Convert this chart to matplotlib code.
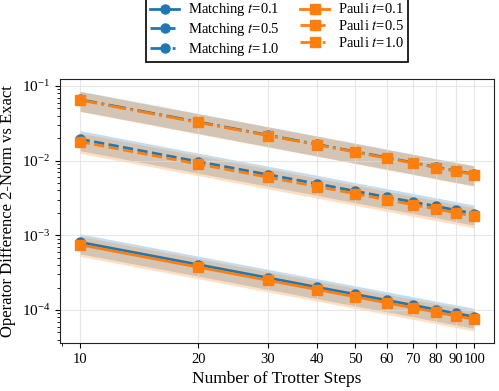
import numpy as np
import matplotlib
matplotlib.use('Agg')
import matplotlib.pyplot as plt

plt.rcParams['font.family'] = ['Liberation Serif', 'DejaVu Serif']
plt.rcParams['mathtext.fontset'] = 'stix'

# trotter steps
steps = [10, 20, 30, 40, 50, 60, 70, 80, 90, 100]

# mean operator difference
match_01 = [8.1e-4, 4.05e-4, 2.7e-4, 2.02e-4, 1.62e-4, 1.35e-4, 1.16e-4, 1.01e-4, 9.0e-5, 8.1e-5]
pauli_01 = [7.5e-4, 3.75e-4, 2.5e-4, 1.88e-4, 1.5e-4, 1.25e-4, 1.07e-4, 9.4e-5, 8.3e-5, 7.5e-5]
match_05 = [1.95e-2, 9.7e-3, 6.5e-3, 4.9e-3, 3.9e-3, 3.25e-3, 2.8e-3, 2.45e-3, 2.17e-3, 1.95e-3]
pauli_05 = [1.8e-2, 9.0e-3, 6.0e-3, 4.5e-3, 3.6e-3, 3.0e-3, 2.57e-3, 2.25e-3, 2.0e-3, 1.8e-3]
match_10 = [6.6e-2, 3.3e-2, 2.2e-2, 1.65e-2, 1.32e-2, 1.1e-2, 9.4e-3, 8.2e-3, 7.3e-3, 6.6e-3]
pauli_10 = [6.5e-2, 3.25e-2, 2.17e-2, 1.63e-2, 1.3e-2, 1.08e-2, 9.3e-3, 8.1e-3, 7.2e-3, 6.5e-3]

# relative spread of the shaded band
rel_spread = 0.3

series = [
    ('Matching $t$=0.1', match_01, '-', 'o', 'tab:blue'),
    ('Matching $t$=0.5', match_05, '--', 'o', 'tab:blue'),
    ('Matching $t$=1.0', match_10, '-.', 'o', 'tab:blue'),
    ('Pauli $t$=0.1', pauli_01, '-', 's', 'tab:orange'),
    ('Pauli $t$=0.5', pauli_05, '--', 's', 'tab:orange'),
    ('Pauli $t$=1.0', pauli_10, '-.', 's', 'tab:orange'),
]

fig, ax = plt.subplots(figsize=(4.99, 3.91), dpi=100)

x = np.array(steps)
for label, vals, ls, mk, col in series:
    y = np.array(vals)
    ax.fill_between(x, y * (1 - rel_spread), y * (1 + rel_spread), color=col, alpha=0.25, lw=0)
    ax.plot(x, y, ls=ls, marker=mk, color=col, lw=2, ms=6.5, label=label)

ax.set_xscale('log')
ax.set_yscale('log')
ax.set_xticks(steps)
ax.set_xticklabels([str(s) for s in steps])
ax.xaxis.set_minor_formatter(matplotlib.ticker.NullFormatter())
ax.grid(True, which='major', color='#dddddd', lw=0.8, alpha=0.7)

ax.set_xlabel('Number of Trotter Steps', fontsize=12.5)
ax.set_ylabel('Operator Difference 2-Norm vs Exact', fontsize=12)
ax.tick_params(axis='x', labelsize=10.5)
ax.tick_params(axis='y', labelsize=11)
for sp in ax.spines.values():
    sp.set_color('#222222')

leg = ax.legend(loc='lower center', bbox_to_anchor=(0.5, 1.035), ncol=2, fontsize=10.5,
                fancybox=False, edgecolor='black', framealpha=1, handleheight=0.5,
                borderpad=0.3, labelspacing=0.2, columnspacing=1.4, handletextpad=0.6)
leg.get_frame().set_linewidth(1.2)

fig.subplots_adjust(left=0.12, right=0.99, bottom=0.123, top=0.798)
fig.savefig('out.png', dpi=100)
